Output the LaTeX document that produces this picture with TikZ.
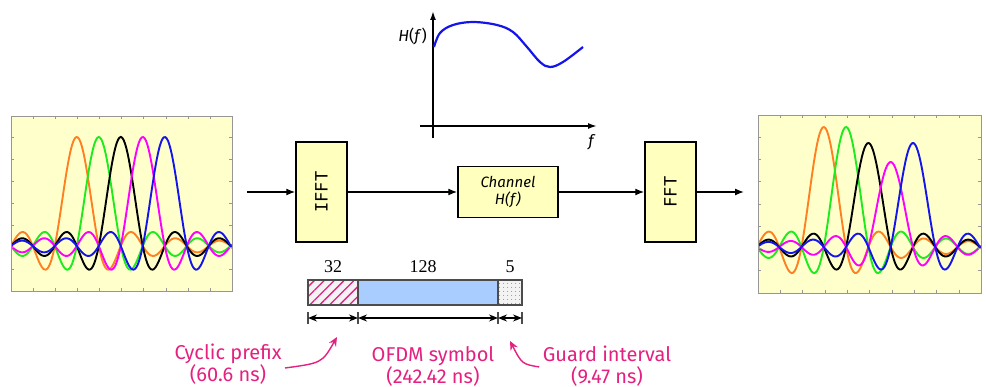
\documentclass[tikz,border=0pt]{standalone}
\usepackage{fontspec}
\setmainfont{Fira Sans}
\newfontfamily\numfont{Liberation Serif}
\newfontfamily\blockfont{DejaVu Sans Mono}
\usepackage{tikz}
\usetikzlibrary{arrows.meta,positioning,calc,patterns.meta}
\definecolor{plotbg}{RGB}{255,255,204}
\definecolor{blockbg}{RGB}{255,255,190}
\definecolor{notepink}{RGB}{228,32,128}
\definecolor{symblue}{RGB}{170,205,255}
\definecolor{cpgray}{RGB}{243,243,243}
\definecolor{sigorange}{RGB}{255,128,32}
\definecolor{siggreen}{RGB}{30,235,30}
\definecolor{sigmagenta}{RGB}{255,0,255}
\definecolor{sigblue}{RGB}{20,20,235}
\definecolor{framegray}{RGB}{150,150,150}

\begin{document}
\begin{tikzpicture}[x=1pt,y=-1pt,
    block/.style={draw,line width=1.5pt,fill=blockbg,inner sep=0pt},
    sig/.style={line width=1.3pt,-{Latex[length=9pt,width=7pt]}},
    axis/.style={line width=1.6pt,-{Latex[length=9pt,width=6pt]}},
    dim/.style={line width=1.4pt,{Stealth[length=9pt,width=7pt]}-{Stealth[length=9pt,width=7pt]}},
    note/.style={text=notepink,align=center,font=\fontsize{20}{22}\selectfont},
    pinkarrow/.style={draw=notepink,line width=1.4pt,-{Stealth[length=9pt,width=8pt]}},
    curve/.style={line width=1.9pt}]
    \useasboundingbox (0,0) rectangle (986,387);

    % transmitted subcarriers
    \fill[plotbg] (11,116) rectangle (232,291);
    \begin{scope}
        \clip (11,116) rectangle (232,291);
        \foreach \k/\col in {0/sigorange,1/siggreen,2/black,3/sigmagenta,4/sigblue}
            \draw[curve,\col] plot[domain=11:232,samples=160]
                (\x,{246-109*sin(180*((\x-77-22*\k)/22+0.01))/(pi*((\x-77-22*\k)/22+0.01))});
    \end{scope}
    \foreach \i in {1,...,9} {
        \draw[framegray] (11+22.1*\i,291) -- ++(0,-3); \draw[framegray] (11+22.1*\i,116) -- ++(0,3);
    }
    \foreach \i in {1,...,7} {
        \draw[framegray] (11,291-21.9*\i) -- ++(3,0); \draw[framegray] (232,291-21.9*\i) -- ++(-3,0);
    }
    \draw[framegray,line width=0.8pt] (11,116) rectangle (232,291);

    % received subcarriers
    \fill[plotbg] (758,115) rectangle (981,293);
    \begin{scope}
        \clip (758,115) rectangle (981,293);
        \foreach \k/\amp/\col in {0/120/sigorange,1/120/siggreen,2/104/black,3/85/sigmagenta,4/104/sigblue}
            \draw[curve,\col] plot[domain=758:981,samples=160]
                (\x,{247-\amp*sin(180*((\x-824-22.3*\k)/22.3+0.01))/(pi*((\x-824-22.3*\k)/22.3+0.01))});
    \end{scope}
    \foreach \i in {1,...,9} {
        \draw[framegray] (758+22.3*\i,293) -- ++(0,-3); \draw[framegray] (758+22.3*\i,115) -- ++(0,3);
    }
    \foreach \i in {1,...,7} {
        \draw[framegray] (758,293-22.3*\i) -- ++(3,0); \draw[framegray] (981,293-22.3*\i) -- ++(-3,0);
    }
    \draw[framegray,line width=0.8pt] (758,115) rectangle (981,293);

    % signal chain
    \node[block,minimum width=51pt,minimum height=100pt] (ifft) at (321.5,192)
        {\rotatebox{90}{\fontsize{17}{17}\blockfont IFFT}};
    \node[block,minimum width=100pt,minimum height=51pt,align=center,
        font=\fontsize{15}{17}\selectfont\itshape] (chan) at (508,192) {Channel\\\textit{H}(\textit{f})};
    \node[block,minimum width=51pt,minimum height=100pt] (fft) at (670.5,192)
        {\rotatebox{90}{\fontsize{17}{17}\blockfont FFT}};
    \coordinate (in) at (247,192);
    \coordinate (out) at (744,192);
    \draw[sig] (in) -- (ifft);
    \draw[sig] (ifft) -- (chan);
    \draw[sig] (chan) -- (fft);
    \draw[sig] (fft) -- (out);

    % channel response
    \coordinate (ybot) at (433,138); \coordinate (ytop) at (433,11);
    \coordinate (xleft) at (420,126); \coordinate (xright) at (597,126);
    \draw[axis] (ybot) -- (ytop);
    \draw[axis] (xleft) -- (xright);
    \node[left,font=\fontsize{16}{16}\selectfont,inner sep=1pt] (hlabel) at (428,36) {\textit{H}(\textit{f})};
    \node[font=\fontsize{16}{16}\selectfont] (flabel) at (592,142) {\textit{f}};
    \draw[sigblue,line width=2.2pt] plot[smooth,tension=0.6] coordinates
        {(434,47) (440,33) (453,25) (473,22) (497,25) (513,32) (527,47) (540,62) (550,67) (563,62) (583,47)};

    % symbol structure
    \coordinate (b0) at (308,280); \coordinate (b1) at (358,280);
    \coordinate (b2) at (498,280); \coordinate (b3) at (522,280);
    \fill[cpgray] (b0) rectangle ($(b1)+(0,25)$);
    \fill[pattern={Lines[angle=45,distance=7pt,line width=1.3pt]},pattern color=notepink] (b0) rectangle ($(b1)+(0,25)$);
    \fill[symblue] (b1) rectangle ($(b2)+(0,25)$);
    \fill[cpgray] (b2) rectangle ($(b3)+(0,25)$);
    \fill[pattern={Dots[distance=4pt,radius=0.5pt]},pattern color=notepink] (b2) rectangle ($(b3)+(0,25)$);
    \draw[black!70,line width=1.2pt] (b0) rectangle ($(b3)+(0,25)$);
    \draw[black!70,line width=1.2pt] (b1) -- ++(0,25) (b2) -- ++(0,25);
    \node[font=\fontsize{18}{18}\numfont] (n32) at (333,267) {32};
    \node[font=\fontsize{18}{18}\numfont] (n128) at (423,267) {128};
    \node[font=\fontsize{18}{18}\numfont] (n5) at (510,267) {5};

    % durations
    \foreach \b in {b0,b1,b2,b3}
        \draw[black!70,line width=1.2pt] ($(\b)+(0,32)$) -- ++(0,12);
    \coordinate (d0) at ($(b0)+(0,38)$); \coordinate (d1) at ($(b1)+(0,38)$);
    \coordinate (d2) at ($(b2)+(0,38)$); \coordinate (d3) at ($(b3)+(0,38)$);
    \draw[dim] (d0) -- (d1);
    \draw[dim] (d1) -- (d2);
    \draw[dim] (d2) -- (d3);

    \node[note] (cpnote) at (228,364) {Cyclic prefix\\(60.6 ns)};
    \node[note] (symnote) at (433,366) {OFDM symbol\\(242.42 ns)};
    \node[note] (ginote) at (607,366) {Guard interval\\(9.47 ns)};
    \coordinate (cptip) at (337,337); \coordinate (gitip) at (510,341);
    \draw[pinkarrow] (cpnote.east |- 0,368) .. controls (322,363) .. (cptip);
    \draw[pinkarrow] (ginote.west |- 0,367) .. controls (522,364) .. (gitip);
\end{tikzpicture}
\end{document}
